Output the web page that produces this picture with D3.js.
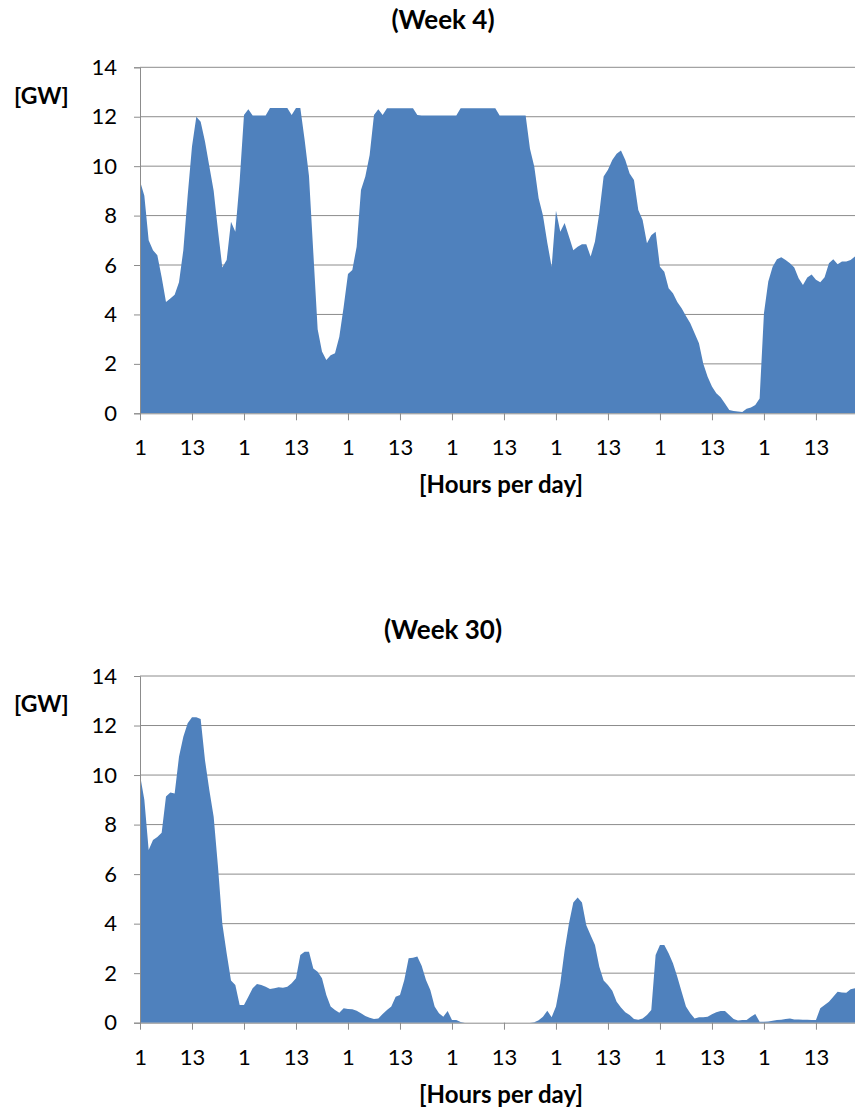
<!DOCTYPE html>
<html><head><meta charset="utf-8">
<script src="https://cdn.jsdelivr.net/npm/d3@7"></script>
<style>html,body{margin:0;padding:0;background:#fff;} svg{display:block;} text{font-family:Lato,"Open Sans",sans-serif;fill:#000;}</style>
</head><body>
<svg id="chart" width="855" height="1108"></svg>
<script>
// ---- data ----
const hours = d3.range(168); // 7 days x 24 hours
const tickLabels = ["1","13"];
const yTicks = [0,2,4,6,8,10,12,14];
const titles = ["(Week 4)", "(Week 30)"];
const yUnit = "[GW]";
const xTitle = "[Hours per day]";

const week4 = [
 9.4,8.8,7.0,6.6,6.4,5.5,4.5,4.65,4.8,5.3,6.6,8.8,10.8,12.0,11.8,11.0,10.0,9.0,7.4,5.9,
 6.2,7.75,7.35,9.4,12.07,12.3,12.05,12.05,12.05,12.05,12.35,12.35,12.35,12.35,12.35,12.07,12.35,12.35,11.06,9.6,
 6.5,3.4,2.5,2.16,2.35,2.43,3.1,4.3,5.64,5.8,6.74,9.04,9.58,10.45,12.07,12.3,12.07,12.34,12.34,12.34,
 12.34,12.34,12.34,12.34,12.07,12.05,12.05,12.05,12.05,12.05,12.05,12.05,12.05,12.05,12.34,12.34,12.34,12.34,12.34,12.34,
 12.34,12.34,12.34,12.05,12.05,12.05,12.05,12.05,12.05,12.05,10.7,9.98,8.7,8.0,6.9,5.93,8.2,7.35,7.7,7.15,
 6.6,6.74,6.84,6.84,6.34,6.95,8.1,9.58,9.85,10.25,10.5,10.63,10.25,9.7,9.44,8.23,7.82,6.88,7.2,7.35,
 5.93,5.73,5.06,4.86,4.5,4.25,3.94,3.64,3.24,2.83,2.0,1.48,1.08,0.81,0.65,0.4,0.13,0.09,0.07,0.05,
 0.18,0.23,0.34,0.6,4.05,5.33,5.93,6.23,6.31,6.2,6.07,5.9,5.46,5.19,5.49,5.62,5.4,5.3,5.5,6.07,
 6.23,6.03,6.14,6.14,6.2,6.34,6.4,6.4
];
const week30 = [
 10.0,9.0,6.97,7.38,7.5,7.67,9.13,9.3,9.26,10.74,11.55,12.09,12.33,12.33,12.26,10.6,9.4,8.32,6.3,4.0,
 2.8,1.7,1.52,0.71,0.71,1.05,1.39,1.56,1.52,1.45,1.36,1.39,1.43,1.41,1.45,1.59,1.79,2.73,2.87,2.87,
 2.19,2.06,1.79,1.12,0.65,0.51,0.4,0.58,0.55,0.54,0.48,0.38,0.27,0.2,0.15,0.17,0.35,0.51,0.65,1.05,
 1.12,1.72,2.6,2.62,2.67,2.3,1.72,1.32,0.65,0.38,0.24,0.47,0.11,0.11,0.03,0,0,0,0,0,
 0,0,0,0,0,0,0,0,0,0,0,0.02,0.1,0.24,0.48,0.22,0.65,1.59,2.93,4.01,
 4.85,5.06,4.85,3.94,3.53,3.14,2.26,1.7,1.52,1.29,0.85,0.61,0.42,0.31,0.15,0.12,0.17,0.31,0.51,2.73,
 3.14,3.14,2.8,2.4,1.86,1.25,0.65,0.38,0.17,0.22,0.22,0.24,0.34,0.42,0.47,0.47,0.31,0.15,0.09,0.11,
 0.11,0.24,0.35,0.04,0.04,0.05,0.08,0.11,0.12,0.15,0.17,0.13,0.13,0.12,0.12,0.11,0.11,0.58,0.71,0.85,
 1.05,1.25,1.22,1.21,1.35,1.39,1.4,1.4
];
const seriesList = [week4, week30];

// ---- layout ----
const svg = d3.select("#chart");
const W = 855;
const panels = [
  {top: 67.3, bottom: 413.3, titleY: 29, unitY: 104, xLabY: 455, xTitleY: 493},
  {top: 676, bottom: 1022.7, titleY: 639, unitY: 712, xLabY: 1065, xTitleY: 1103}
];
const left = 140, hourPx = 4.333;
const fillColor = "#4F81BD", gridColor = "#8C8C8C";

panels.forEach((p, k) => {
  const data = seriesList[k];
  const x = d3.scaleLinear().domain([0, 167]).range([left, left + 167 * hourPx]);
  const y = d3.scaleLinear().domain([0, 14]).range([p.bottom, p.top]);
  const g = svg.append("g");

  // gridlines
  g.selectAll("line.grid").data(yTicks.filter(v => v > 0)).join("line")
    .attr("x1", left).attr("x2", W)
    .attr("y1", d => y(d)).attr("y2", d => y(d))
    .attr("stroke", gridColor).attr("stroke-width", 1);

  // area
  const area = d3.area().x((d, i) => x(i)).y0(y(0)).y1(d => y(d));
  g.append("path").datum(data).attr("d", area).attr("fill", fillColor);

  // y axis
  const yAxis = d3.axisLeft(y).tickValues(yTicks).tickSize(6).tickPadding(17).tickFormat(d3.format("d"));
  const ya = g.append("g").attr("transform", `translate(${left},0)`).call(yAxis);
  ya.select(".domain").attr("stroke", gridColor);
  ya.selectAll(".tick line").attr("stroke", gridColor);
  ya.selectAll(".tick text").style("font-size", "22px").style("font-family", "Lato, sans-serif").attr("fill", "#000");

  // x axis
  const xTickVals = hours.filter(h => h % 12 === 0);
  const xAxis = d3.axisBottom(x).tickValues(xTickVals).tickSize(7).tickPadding(14)
    .tickFormat(h => tickLabels[(h / 12) % 2]);
  const xa = g.append("g").attr("transform", `translate(0,${y(0)})`).call(xAxis);
  xa.select(".domain").attr("stroke", gridColor).attr("d", `M${left},0.5H${W}`);
  xa.selectAll(".tick line").attr("stroke", gridColor);
  xa.selectAll(".tick text").style("font-size", "22px").style("font-family", "Lato, sans-serif").attr("fill", "#000")
    .attr("y", null).attr("dy", null).attr("transform", `translate(0,${p.xLabY - y(0)})`);

  // texts
  svg.append("text").attr("x", 443).attr("y", p.titleY).attr("text-anchor", "middle")
    .style("font-size", "26px").style("font-weight", "bold").text(titles[k]);
  svg.append("text").attr("x", 14).attr("y", p.unitY)
    .style("font-size", "23px").style("font-weight", "bold").text(yUnit);
  svg.append("text").attr("x", 501).attr("y", p.xTitleY).attr("text-anchor", "middle")
    .style("font-size", "24px").style("font-weight", "bold").text(xTitle);
});
</script>
</body></html>
